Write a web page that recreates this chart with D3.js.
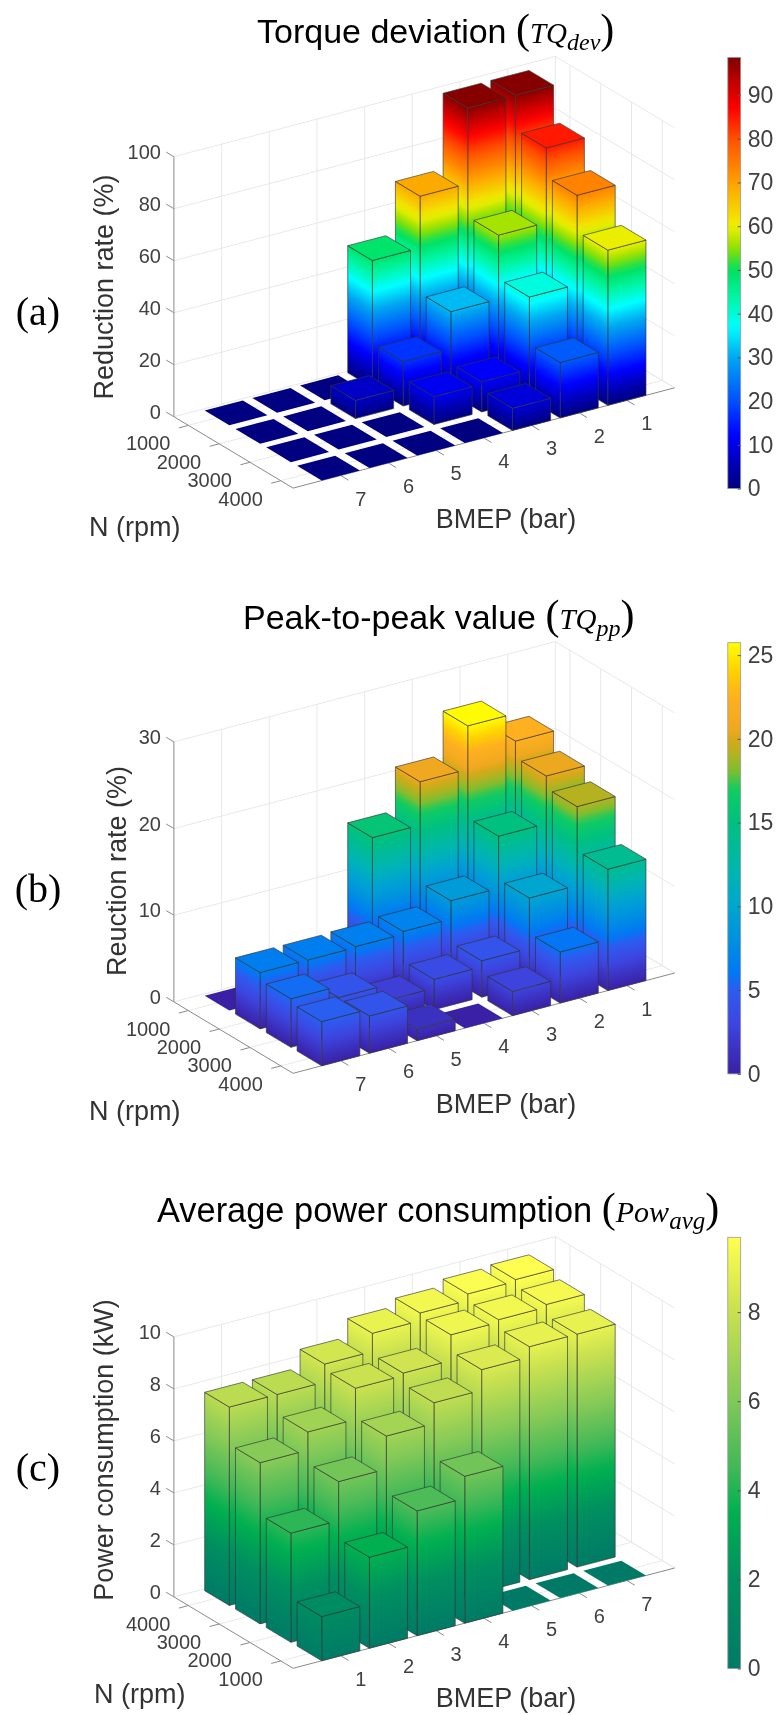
<!DOCTYPE html>
<html>
<head>
<meta charset="utf-8">
<script src="https://cdn.jsdelivr.net/npm/d3@7"></script>
<style>
	body { margin: 0; background: #fff; }
	svg { display: block; filter: blur(0.4px); }
	text { font-family: "Liberation Sans", Arial, sans-serif; }
</style>
</head>
<body>
<script>
var bmepValues = [1, 2, 3, 4, 5, 6, 7];
var rpmValues = [1000, 2000, 3000, 4000];

// rows = N 1000..4000, columns = BMEP 1..7
var torqueDev = [
	[98.0, 97.9, 68.8, 48.9, 0, 0, 0],
	[84.8, 56.1, 31.5, 17.1, 7.0, 0, 0],
	[73.7, 39.4, 11.6, 10.7, 0, 0, 0],
	[59.7, 21.3, 8.5, 0, 0, 0, 0]
];
var torquePp = [
	[22.4, 25.6, 20.6, 15.6, 0, 0, 0],
	[20.5, 15.0, 9.0, 6.9, 6.6, 6.5, 6.5],
	[19.1, 10.0, 4.2, 3.5, 2.5, 4.3, 5.6],
	[14.0, 5.9, 2.8, 0, 1.35, 4.3, 5.1]
];
var powAvg = [
	[1.7, 3.5, 4.8, 5.65, 0, 0, 0],
	[4.2, 5.7, 6.97, 7.77, 8.56, 8.96, 8.96],
	[6.2, 6.9, 8.1, 8.2, 9.19, 9.29, 9.39],
	[7.63, 7.63, 8.32, 9.02, 9.32, 9.57, 9.64]
];

var zTicksA = [0, 20, 40, 60, 80, 100];
var zTicksB = [0, 10, 20, 30];
var zTicksC = [0, 2, 4, 6, 8, 10];
var barTicksA = [0, 10, 20, 30, 40, 50, 60, 70, 80, 90];
var barTicksB = [0, 5, 10, 15, 20, 25];
var barTicksC = [0, 2, 4, 6, 8];

// colormaps, value -> colour
var jetValues = [0, 5, 12, 20, 30, 37, 44, 50, 55, 60, 70, 80, 87, 93, 98.6];
var jetColors = ["#000080", "#0000b0", "#0000ff", "#0050ff", "#00a8f0", "#00ffff", "#00f5a0", "#00e060", "#90e000", "#f0f000", "#ffa000", "#ff5000", "#ff0000", "#c00000", "#7f0000"];
var parulaValues = [0, 3, 5, 6, 8, 10, 12, 15, 17, 18, 19, 20, 20.6, 22.5, 24, 25.74];
var parulaColors = ["#3a20a5", "#3d45e0", "#2d5cf0", "#0078f5", "#0090e0", "#00a5d0", "#00b5b0", "#00c080", "#10cc60", "#78be32", "#b0b420", "#d8a818", "#f0a820", "#ffb020", "#ffd000", "#ffff00"];
var summerValues = [0, 2, 3.5, 4.5, 6, 8, 9.68];
var summerColors = ["#007a66", "#008f60", "#00b050", "#40b858", "#80c858", "#c8e050", "#ffff50"];

var svg = d3.select("body").append("svg")
	.attr("width", 779)
	.attr("height", 1715);
var defs = svg.append("defs");
var gradId = 0;

var uMax = 8;
var vMin = 0.53;
var vMax = 4.4;
var lineOf = d3.line();

function drawPanel(p) {
	var color = d3.scaleLinear().domain(p.colorValues).range(p.colorColors);
	var colorMax = p.colorValues[p.colorValues.length - 1];
	var zTop = p.zTicks[p.zTicks.length - 1];

	var uX = d3.scaleLinear().domain([0, uMax]).range([0, -381.5]);
	var uY = d3.scaleLinear().domain([0, uMax]).range([0, 100.3]);
	var vX = d3.scaleLinear().domain([vMin, vMax]).range([0, 119.2]);
	var vY = d3.scaleLinear().domain([vMin, vMax]).range([0, 71.4]);
	var zY = d3.scaleLinear().domain([0, zTop]).range([0, 260]);
	var slotU = d3.scaleLinear().domain([1, 7]).range(p.reversed ? [7, 1] : [1, 7]);
	var slotV = d3.scaleLinear().domain([1000, 4000]).range(p.reversed ? [4, 1] : [1, 4]);

	function project(u, v, z) {
		return [555.4 + uX(u) + vX(v), p.backY + uY(u) + vY(v) - zY(z)];
	}

	var g = svg.append("g");

	// walls and floor grid
	var grid = [];
	p.zTicks.forEach(function (z) {
		grid.push([project(uMax, vMin, z), project(0, vMin, z), project(0, vMax, z)]);
	});
	bmepValues.concat([0]).forEach(function (b, i) {
		var u = i === 7 ? 0 : slotU(b);
		grid.push([project(u, vMax, 0), project(u, vMin, 0), project(u, vMin, zTop)]);
	});
	rpmValues.forEach(function (n) {
		grid.push([project(uMax, slotV(n), 0), project(0, slotV(n), 0), project(0, slotV(n), zTop)]);
	});
	g.selectAll("path.grid").data(grid).enter().append("path")
		.attr("class", "grid")
		.attr("d", function (d) { return lineOf(d); })
		.attr("fill", "none")
		.attr("stroke", "#e8e8e8")
		.attr("stroke-width", 1);

	// axis lines and ticks
	var axisLines = [
		[project(uMax, vMin, 0), project(uMax, vMin, zTop)],
		[project(uMax, vMin, 0), project(uMax, vMax, 0)],
		[project(uMax, vMax, 0), project(0, vMax, 0)]
	];
	p.zTicks.forEach(function (z) {
		axisLines.push([project(uMax, vMin, z), project(uMax, vMin - 0.25, z)]);
	});
	rpmValues.forEach(function (n) {
		axisLines.push([project(uMax, slotV(n), 0), project(uMax + 0.2, slotV(n), 0)]);
	});
	bmepValues.forEach(function (b) {
		axisLines.push([project(slotU(b), vMax, 0), project(slotU(b), vMax + 0.25, 0)]);
	});
	g.selectAll("path.axis").data(axisLines).enter().append("path")
		.attr("class", "axis")
		.attr("d", function (d) { return lineOf(d); })
		.attr("fill", "none")
		.attr("stroke", "#8a8a8a")
		.attr("stroke-width", 1);

	// bars, back to front
	var bars = [];
	rpmValues.forEach(function (n, i) {
		bmepValues.forEach(function (b, j) {
			bars.push({ u: slotU(b), v: slotV(n), value: p.values[i][j] });
		});
	});
	bars.sort(function (a, b) { return (a.u + a.v) - (b.u + b.v); });

	function faceGradient(base, other) {
		var dx = other[0] - base[0];
		var dy = other[1] - base[1];
		var len = Math.sqrt(dx * dx + dy * dy);
		var nx = dy / len;
		var ny = -dx / len;
		if (ny > 0) { nx = -nx; ny = -ny; }
		var t = zY(colorMax) * Math.abs(ny);
		var id = "grad" + (gradId++);
		var grad = defs.append("linearGradient")
			.attr("id", id)
			.attr("gradientUnits", "userSpaceOnUse")
			.attr("x1", base[0])
			.attr("y1", base[1])
			.attr("x2", base[0] + nx * t)
			.attr("y2", base[1] + ny * t);
		d3.range(41).forEach(function (i) {
			grad.append("stop")
				.attr("offset", i / 40)
				.attr("stop-color", color(colorMax * i / 40));
		});
		return "url(#" + id + ")";
	}

	bars.forEach(function (d) {
		var w = 0.4;
		var z = d.value;
		var top = [project(d.u + w, d.v + w, z), project(d.u - w, d.v + w, z), project(d.u - w, d.v - w, z), project(d.u + w, d.v - w, z)];
		if (z === 0) {
			g.append("path")
				.attr("d", lineOf(top) + "Z")
				.attr("fill", color(0));
			return;
		}
		var front = project(d.u + w, d.v + w, 0);
		var right = project(d.u - w, d.v + w, 0);
		var left = project(d.u + w, d.v - w, 0);
		g.append("path")
			.attr("d", lineOf([front, right, top[1], top[0]]) + "Z")
			.attr("fill", faceGradient(front, right))
			.attr("stroke", "#333")
			.attr("stroke-opacity", 0.8)
			.attr("stroke-width", 0.8);
		g.append("path")
			.attr("d", lineOf([front, left, top[3], top[0]]) + "Z")
			.attr("fill", faceGradient(front, left))
			.attr("stroke", "#333")
			.attr("stroke-opacity", 0.8)
			.attr("stroke-width", 0.8);
		g.append("path")
			.attr("d", lineOf(top) + "Z")
			.attr("fill", color(z))
			.attr("stroke", "#333")
			.attr("stroke-opacity", 0.8)
			.attr("stroke-width", 0.8);
	});

	// tick labels
	p.zTicks.forEach(function (z) {
		var a = project(uMax, vMin, z);
		g.append("text")
			.attr("x", a[0] - 13)
			.attr("y", a[1] - 5)
			.attr("dy", "0.35em")
			.attr("text-anchor", "end")
			.attr("font-size", "20px")
			.attr("fill", "#404040")
			.text(z);
	});
	rpmValues.forEach(function (n) {
		var a = project(uMax, slotV(n), 0);
		g.append("text")
			.attr("x", a[0] - 18)
			.attr("y", a[1] + 18)
			.attr("dy", "0.35em")
			.attr("text-anchor", "end")
			.attr("font-size", "20px")
			.attr("fill", "#404040")
			.text(n);
	});
	bmepValues.forEach(function (b) {
		var a = project(slotU(b), vMax, 0);
		g.append("text")
			.attr("x", a[0] + 20)
			.attr("y", a[1] + 23)
			.attr("dy", "0.35em")
			.attr("text-anchor", "middle")
			.attr("font-size", "20px")
			.attr("fill", "#404040")
			.text(b);
	});

	// axis labels
	g.append("text")
		.attr("transform", "translate(" + p.zLabel[0] + "," + p.zLabel[1] + ")rotate(-90)")
		.attr("text-anchor", "middle")
		.attr("dy", "0.35em")
		.attr("font-size", "27px")
		.attr("fill", "#333")
		.text(p.zTitle);
	g.append("text")
		.attr("x", p.nLabel[0])
		.attr("y", p.nLabel[1])
		.attr("dy", "0.35em")
		.attr("font-size", "27px")
		.attr("fill", "#333")
		.text("N (rpm)");
	g.append("text")
		.attr("x", 435.7)
		.attr("y", p.bmepLabelY)
		.attr("dy", "0.35em")
		.attr("font-size", "27px")
		.attr("fill", "#333")
		.text("BMEP (bar)");

	// title with math part
	var serif = "'Liberation Serif', serif";
	var title = g.append("text")
		.attr("x", p.titleX)
		.attr("y", p.titleY)
		.attr("font-size", p.titleSize + "px")
		.attr("fill", "#000");
	title.append("tspan").text(p.title + " ");
	title.append("tspan")
		.style("font-family", serif)
		.attr("font-size", "42px")
		.text("(");
	title.append("tspan")
		.style("font-family", serif)
		.style("font-style", "italic")
		.attr("font-size", p.mathSize + "px")
		.text(p.mathMain);
	title.append("tspan")
		.style("font-family", serif)
		.style("font-style", "italic")
		.attr("font-size", (p.mathSize - 5) + "px")
		.attr("dy", 7)
		.text(p.mathSub);
	title.append("tspan")
		.style("font-family", serif)
		.attr("font-size", "42px")
		.attr("dy", -7)
		.text(")");

	// panel letter
	g.append("text")
		.attr("x", 38)
		.attr("y", p.letterY)
		.attr("dy", "0.3em")
		.attr("text-anchor", "middle")
		.style("font-family", serif)
		.attr("font-size", "40px")
		.attr("fill", "#000")
		.text(p.letter);

	// colorbar
	var barId = "bar" + p.letter.charAt(1);
	var barGrad = defs.append("linearGradient")
		.attr("id", barId)
		.attr("x1", 0).attr("y1", 1).attr("x2", 0).attr("y2", 0);
	d3.range(61).forEach(function (i) {
		barGrad.append("stop")
			.attr("offset", i / 60)
			.attr("stop-color", color(colorMax * i / 60));
	});
	g.append("rect")
		.attr("x", 727.8)
		.attr("y", p.barTop)
		.attr("width", 12.9)
		.attr("height", 431.2)
		.attr("fill", "url(#" + barId + ")")
		.attr("stroke", "#999")
		.attr("stroke-width", 0.8);
	var barScale = d3.scaleLinear().domain([0, colorMax]).range([p.barTop + 431.2, p.barTop]);
	var barAxis = g.append("g")
		.attr("transform", "translate(740.7,0)")
		.call(d3.axisRight(barScale).tickValues(p.barTicks).tickSizeInner(-3).tickSizeOuter(0).tickPadding(7));
	barAxis.select(".domain").remove();
	barAxis.selectAll("line").attr("stroke", "#555");
	barAxis.selectAll("text")
		.style("font-family", "'Liberation Sans', Arial, sans-serif")
		.attr("font-size", "23px")
		.attr("fill", "#404040");
}

drawPanel({
	values: torqueDev, zTicks: zTicksA, barTicks: barTicksA,
	colorValues: jetValues, colorColors: jetColors,
	reversed: false, backY: 316.4, barTop: 57.4,
	zTitle: "Reduction rate (%)", zLabel: [104, 287], nLabel: [89, 527], bmepLabelY: 519,
	title: "Torque deviation", mathMain: "TQ", mathSub: "dev", titleX: 257, titleY: 43, titleSize: 34, mathSize: 29,
	letter: "(a)", letterY: 312.6
});
drawPanel({
	values: torquePp, zTicks: zTicksB, barTicks: barTicksB,
	colorValues: parulaValues, colorColors: parulaColors,
	reversed: false, backY: 901.6, barTop: 642.7,
	zTitle: "Reuction rate (%)", zLabel: [117, 871], nLabel: [89, 1111], bmepLabelY: 1104,
	title: "Peak-to-peak value", mathMain: "TQ", mathSub: "pp", titleX: 243, titleY: 628.9, titleSize: 34, mathSize: 29,
	letter: "(b)", letterY: 890
});
drawPanel({
	values: powAvg, zTicks: zTicksC, barTicks: barTicksC,
	colorValues: summerValues, colorColors: summerColors,
	reversed: true, backY: 1496.6, barTop: 1237.3,
	zTitle: "Power consumption (kW)", zLabel: [104, 1450], nLabel: [94, 1694], bmepLabelY: 1698,
	title: "Average power consumption", mathMain: "Pow", mathSub: "avg", titleX: 157, titleY: 1222, titleSize: 34.4, mathSize: 30,
	letter: "(c)", letterY: 1468.5
});
</script>
</body>
</html>
